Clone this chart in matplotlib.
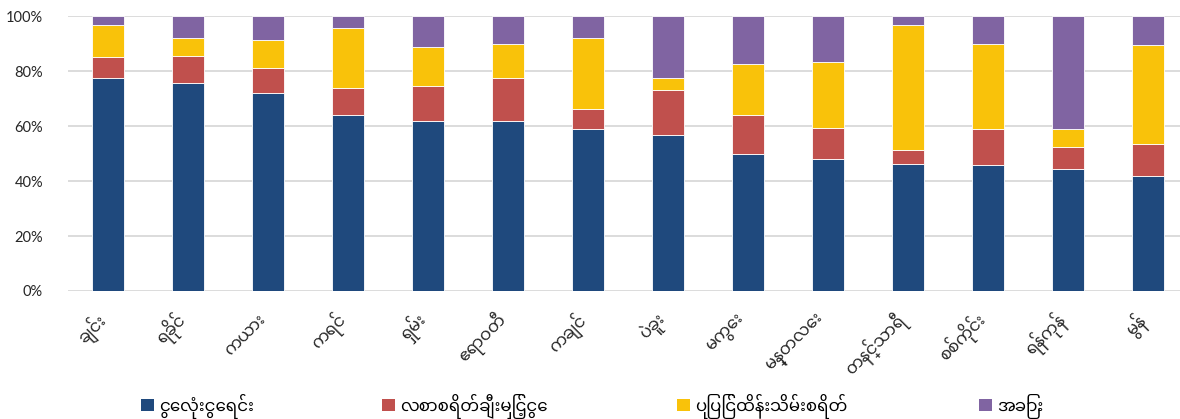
import numpy as np
import matplotlib
matplotlib.use("Agg")
import matplotlib.pyplot as plt
import matplotlib.transforms as mtransforms
from matplotlib.patches import Patch
from matplotlib.ticker import PercentFormatter

# share of spending per region, percent
regions = ["ချင်း", "ရခိုင်", "ကယား", "ကရင်", "ရှမ်း", "ဧရာဝတီ", "ကချင်",
           "ပဲခူး", "မကွေး", "မန္တလေး", "တနင်္သာရီ", "စစ်ကိုင်း", "ရန်ကုန်", "မွန်"]
capital = [77.5, 75.5, 71.9, 63.9, 61.9, 61.9, 58.8, 56.8, 49.7, 48.0, 46.2, 45.8, 44.5, 41.9]
salary = [7.6, 10.0, 9.3, 9.9, 12.6, 15.6, 7.4, 16.2, 14.2, 11.4, 5.1, 13.2, 7.9, 11.7]
maintenance = [11.6, 6.4, 10.0, 22.0, 14.2, 12.2, 25.7, 4.3, 18.8, 23.9, 45.4, 30.9, 6.6, 35.7]
other = [3.3, 8.1, 8.8, 4.2, 11.3, 10.3, 8.1, 22.7, 17.3, 16.7, 3.3, 10.1, 41.0, 10.7]

series_names = ["ငွေလုံးငွေရင်း", "လစာစရိတ်ချီးမြှင့်ငွေ", "ပြုပြင်ထိန်းသိမ်းစရိတ်", "အခြား"]
series_colors = ["#1F497D", "#C0504D", "#F9C20A", "#8064A2"]

plt.rcParams["font.family"] = ["Lato", "Noto Sans Myanmar", "DejaVu Sans"]
mm_font = ["Noto Sans Myanmar", "Padauk", "DejaVu Sans"]

W, H = 1180, 419
fig = plt.figure(figsize=(W / 100, H / 100), dpi=100)
fig.patch.set_facecolor("white")
ax = fig.add_axes([68 / W, 128 / H, (W - 68) / W, 275 / H])

x = np.arange(len(regions))
bottom = np.zeros(len(regions))
for name, vals, col in zip(series_names, [capital, salary, maintenance, other], series_colors):
    vals = np.array(vals)
    ax.bar(x, vals, 0.4, bottom=bottom, color=col, edgecolor="white",
           linewidth=0.6, label=name, zorder=3)
    bottom += vals

ax.set_xlim(-0.5, 13.4)
ax.set_ylim(0, 100)
ax.set_yticks(np.arange(0, 101, 20))
ax.yaxis.set_major_formatter(PercentFormatter(decimals=0))
ax.grid(axis="y", color="#D9D9D9", linewidth=1.3, zorder=0)
for s in ax.spines.values():
    s.set_visible(False)
ax.tick_params(axis="both", length=0, colors="#262626")
ax.tick_params(axis="y", labelsize=10.5, pad=18)

ax.set_xticks(x)
ax.set_xticklabels(regions, rotation=45, ha="right", va="center",
                   rotation_mode="anchor", family=mm_font, fontsize=12)
ax.tick_params(axis="x", pad=19)
shift = mtransforms.ScaledTranslation(-5 / 100, 0, fig.dpi_scale_trans)
for lbl in ax.get_xticklabels():
    lbl.set_transform(lbl.get_transform() + shift)

# one legend per entry so the entries sit where they should along the bottom
legend_x = [141, 382, 677, 979]
for name, col, lx in zip(series_names, series_colors, legend_x):
    fig.legend([Patch(facecolor=col)], [name], loc="center left",
               bbox_to_anchor=(lx / W, 13 / H), frameon=False,
               prop={"family": mm_font, "size": 12}, borderpad=0, borderaxespad=0,
               handlelength=0.75, handleheight=0.75, handletextpad=0.35)

fig.savefig("out.png", dpi=100)
